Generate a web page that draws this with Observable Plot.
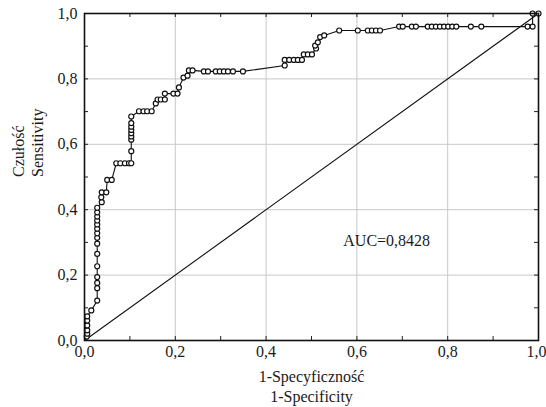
<!DOCTYPE html>
<html>
<head>
<meta charset="utf-8">
<script src="https://cdn.jsdelivr.net/npm/d3@7"></script>
<script src="https://cdn.jsdelivr.net/npm/@observablehq/plot@0.6"></script>
<style>
  html, body { margin: 0; padding: 0; background: #fff; }
  #chart svg { display: block; }
</style>
</head>
<body>
<div id="chart"></div>
<script>
// ROC curve points (1-specificity, sensitivity)
const fpr = [
  0.005, 0.006, 0.006, 0.006, 0.006, 0.006, 0.015,
  0.028, 0.028, 0.028, 0.028, 0.028, 0.028, 0.028, 0.028, 0.028, 0.028, 0.028, 0.028, 0.028, 0.028, 0.028,
  0.038, 0.037, 0.038, 0.048, 0.050, 0.060,
  0.070, 0.079, 0.089, 0.098,
  0.103, 0.103, 0.103, 0.103, 0.103, 0.103, 0.103, 0.103, 0.103,
  0.120, 0.130, 0.138, 0.148,
  0.157, 0.161, 0.168, 0.177, 0.177, 0.196, 0.205, 0.208, 0.218, 0.227, 0.230, 0.238,
  0.263, 0.272, 0.289, 0.298, 0.307, 0.316, 0.327, 0.349,
  0.441, 0.441, 0.451, 0.461, 0.470, 0.479,
  0.483, 0.492, 0.501, 0.510, 0.508, 0.514, 0.519, 0.528,
  0.561, 0.602, 0.624, 0.633, 0.642, 0.651,
  0.693, 0.701, 0.721, 0.730, 0.756, 0.765, 0.774, 0.783, 0.792, 0.801, 0.810, 0.819, 0.851, 0.874,
  0.976, 0.987, 0.987, 1.000
];
const tpr = [
  0.012, 0.021, 0.031, 0.046, 0.061, 0.074, 0.092,
  0.122, 0.160, 0.176, 0.194, 0.227, 0.265, 0.296, 0.314, 0.328, 0.342, 0.355, 0.367, 0.379, 0.392, 0.406,
  0.423, 0.438, 0.453, 0.453, 0.491, 0.491,
  0.542, 0.542, 0.542, 0.542,
  0.542, 0.579, 0.614, 0.624, 0.634, 0.644, 0.654, 0.665, 0.685,
  0.701, 0.701, 0.701, 0.701,
  0.725, 0.737, 0.737, 0.737, 0.755, 0.755, 0.755, 0.774, 0.804, 0.810, 0.826, 0.826,
  0.823, 0.823, 0.823, 0.823, 0.823, 0.823, 0.823, 0.823,
  0.841, 0.858, 0.858, 0.858, 0.858, 0.858,
  0.875, 0.875, 0.875, 0.893, 0.902, 0.912, 0.928, 0.933,
  0.948, 0.948, 0.948, 0.948, 0.948, 0.948,
  0.960, 0.960, 0.960, 0.960, 0.960, 0.960, 0.960, 0.960, 0.960, 0.960, 0.960, 0.960, 0.960, 0.960,
  0.960, 0.960, 1.000, 1.000
];
const xTicksInner = [0, 0.2, 0.4, 0.6, 0.8];
const xTickLast = [1.0];
const yTicks = [0, 0.2, 0.4, 0.6, 0.8, 1.0];
const gridTicks = [0.2, 0.4, 0.6, 0.8];
const minorTicks = [0.1, 0.2, 0.3, 0.4, 0.5, 0.6, 0.7, 0.8, 0.9];
const diagonal = [0, 1];
const xTitle = "1-Specyficzność\n1-Specificity";
const yTitle = "Czułość\nSensitivity";
const aucLabel = "AUC=0,8428";
const aucPos = {x: 0.57, y: 0.305};

const points = fpr.map((f, i) => ({fpr: f, tpr: tpr[i]}));
const fmt = d => d.toFixed(1).replace(".", ",");

const W = 546, H = 407;
const mL = 84, mR = 8, mT = 13, mB = 67;
const innerW = W - mL - mR, innerH = H - mT - mB;
const tickLen = 4;

const chart = Plot.plot({
  width: W,
  height: H,
  marginLeft: mL,
  marginRight: mR,
  marginTop: mT,
  marginBottom: mB,
  style: {fontFamily: "'Liberation Serif', 'Times New Roman', serif", fontSize: "16px", color: "#1a1a1a", background: "#fff"},
  x: {domain: [0, 1]},
  y: {domain: [0, 1]},
  marks: [
    Plot.ruleX(gridTicks, {stroke: "#c8c8c8", strokeWidth: 1}),
    Plot.ruleY(gridTicks, {stroke: "#c8c8c8", strokeWidth: 1}),
    Plot.ruleX(minorTicks, {stroke: "#222", insetTop: innerH - tickLen}),
    Plot.ruleX(minorTicks, {stroke: "#222", insetBottom: innerH - tickLen}),
    Plot.ruleY(minorTicks, {stroke: "#222", insetRight: innerW - tickLen}),
    Plot.ruleY(minorTicks, {stroke: "#222", insetLeft: innerW - tickLen}),
    Plot.axisX({ticks: xTicksInner, tickFormat: fmt, tickSize: 0, tickPadding: 5, fontSize: 16, label: null}),
    Plot.axisX({ticks: xTickLast, tickFormat: fmt, tickSize: 0, tickPadding: 5, fontSize: 16, label: null, dx: -2}),
    Plot.axisY({ticks: yTicks, tickFormat: fmt, tickSize: 0, tickPadding: 7, fontSize: 16, label: null}),
    Plot.line(diagonal, {x: d => d, y: d => d, stroke: "#111", strokeWidth: 1.1}),
    Plot.line(points, {x: "fpr", y: "tpr", stroke: "#111", strokeWidth: 1.1}),
    Plot.dot(points, {x: "fpr", y: "tpr", r: 2.5, stroke: "#111", fill: "#fff", strokeWidth: 1.2}),
    Plot.text([aucLabel], {x: aucPos.x, y: aucPos.y, text: d => d, textAnchor: "start", fontSize: 16, fill: "#1a1a1a"}),
    Plot.text([xTitle], {frameAnchor: "bottom", text: d => d, dy: 45, lineAnchor: "middle", lineHeight: 1.25, fontSize: 16, fill: "#1a1a1a"}),
    Plot.text([yTitle], {frameAnchor: "left", text: d => d, dx: -57, rotate: -90, lineAnchor: "middle", lineHeight: 1.2, fontSize: 16, fill: "#1a1a1a"}),
    Plot.frame({stroke: "#111", strokeWidth: 1.6})
  ]
});
document.getElementById("chart").appendChild(chart);
</script>
</body>
</html>
